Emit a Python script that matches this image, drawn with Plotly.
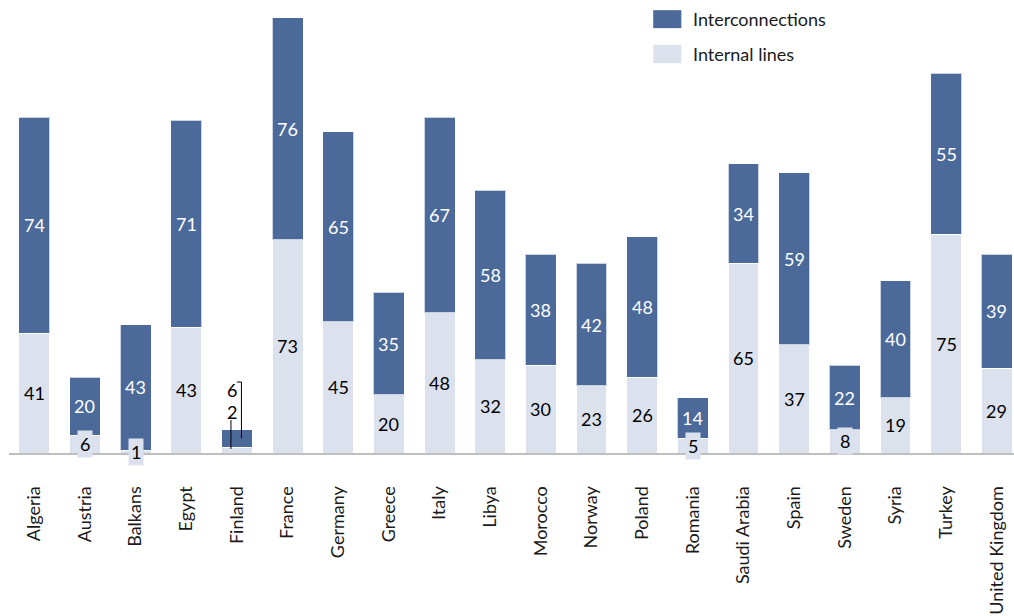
import plotly.graph_objects as go

countries = ["Algeria", "Austria", "Balkans", "Egypt", "Finland", "France", "Germany",
             "Greece", "Italy", "Libya", "Morocco", "Norway", "Poland", "Romania",
             "Saudi Arabia", "Spain", "Sweden", "Syria", "Turkey", "United Kingdom"]
internal_lines = [41, 6, 1, 43, 2, 73, 45, 20, 48, 32, 30, 23, 26, 5, 65, 37, 8, 19, 75, 29]
interconnections = [74, 20, 43, 71, 6, 76, 65, 35, 67, 58, 38, 42, 48, 14, 34, 59, 22, 40, 55, 39]

DARK = "#4B6A9A"
LIGHT = "#DCE2ED"
FONT = "Lato"
FS = 18

fig = go.Figure()
fig.add_trace(go.Bar(x=countries, y=internal_lines, name="Internal lines",
                     marker=dict(color=LIGHT, line=dict(color="white", width=1)),
                     width=0.61, showlegend=False))
fig.add_trace(go.Bar(x=countries, y=interconnections, name="Interconnections",
                     marker=dict(color=DARK, line=dict(color="rgba(255,255,255,0.7)", width=1)),
                     width=0.61, showlegend=False))

annotations = []
shapes = []
for i, (c, a, b) in enumerate(zip(countries, internal_lines, interconnections)):
    if c == "Finland":
        total = a + b
        annotations.append(dict(x=c, y=total + 13.5, text=str(b), showarrow=False, xshift=-4.5,
                                font=dict(family=FONT, size=FS, color="black")))
        annotations.append(dict(x=c, y=total + 6, text=str(a), showarrow=False, xshift=-4.5,
                                font=dict(family=FONT, size=FS, color="black")))
        shapes.append(dict(type="path", xref="x", yref="y", xsizemode="pixel", xanchor=i,
                           path=f"M 0,{total + 16.3} L 4.5,{total + 16.3} L 4.5,{a + b / 2}",
                           line=dict(color="black", width=1)))
        shapes.append(dict(type="path", xref="x", yref="y", xsizemode="pixel", xanchor=i,
                           path=f"M -6,{a / 2 + 0.4} L -6,{total + 3.3}",
                           line=dict(color="black", width=1)))
        continue
    annotations.append(dict(x=c, y=a / 2, text=str(a), showarrow=False, bgcolor=LIGHT, borderpad=2,
                            font=dict(family=FONT, size=FS, color="black")))
    annotations.append(dict(x=c, y=a + b / 2, text=str(b), showarrow=False,
                            font=dict(family=FONT, size=FS, color="white")))

# custom legend
legend_items = [("Interconnections", DARK, 1.011, 0.970), ("Internal lines", LIGHT, 0.932, 0.890)]
for name, col, y0, y1 in legend_items:
    shapes.append(dict(type="rect", xref="paper", yref="paper", x0=0.641, x1=0.669, y0=y1, y1=y0,
                       fillcolor=col, line=dict(width=0)))
    annotations.append(dict(xref="paper", yref="paper", x=0.679, y=(y0 + y1) / 2, text=name,
                            xanchor="left", yanchor="middle", showarrow=False,
                            font=dict(family=FONT, size=FS, color="#1a1a1a")))

fig.update_layout(
    barmode="stack",
    width=1014, height=616,
    margin=dict(l=9, r=0, t=15, b=163),
    plot_bgcolor="white", paper_bgcolor="white",
    bargap=0.39,
    annotations=annotations,
    shapes=shapes,
    font=dict(family=FONT, size=FS, color="#1a1a1a"),
)
fig.update_xaxes(range=[-0.5, 19.34], tickangle=-90, showline=True, linecolor="#BFBFBF", linewidth=2,
                 ticks="", ticklabelstandoff=24, tickfont=dict(family=FONT, size=FS, color="#1a1a1a"),
                 showgrid=False)
fig.update_yaxes(range=[0, 150], visible=False, showgrid=False, zeroline=False)

fig.write_html("out.html", config={"displayModeBar": False},
               post_script="document.body.style.margin='0';document.body.style.overflow='hidden';")
